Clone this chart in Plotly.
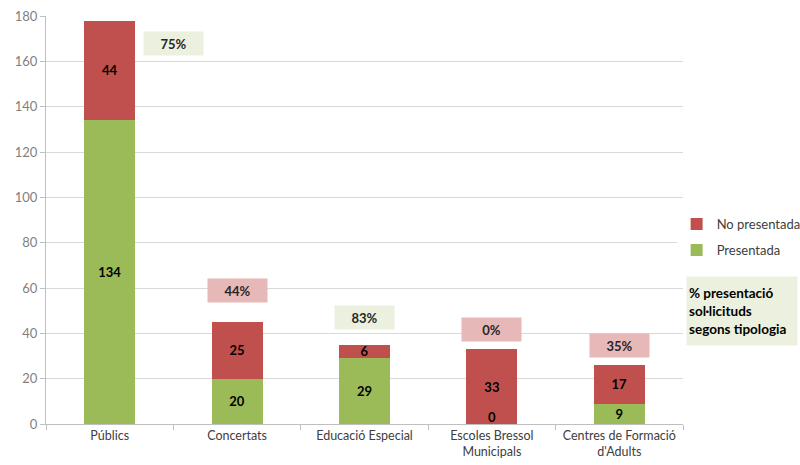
import plotly.graph_objects as go

categories = ["Públics", "Concertats", "Educació Especial", "Escoles Bressol<br>Municipals", "Centres de Formació<br>d'Adults"]
presentada = [134, 20, 29, 0, 9]
no_presentada = [44, 25, 6, 33, 17]
pct_labels = ["75%", "44%", "83%", "0%", "35%"]
pct_values = [75, 44, 83, 0, 35]
pct_x = [0.5, 1, 2, 3, 4]
pct_y = [167.8, 58.9, 47.2, 41.7, 34.6]

RED = "#C0504D"
GREEN = "#9BBB59"
FONT = "Lato"

fig = go.Figure()
fig.add_trace(go.Bar(
    x=categories, y=presentada, name="Presentada", marker_color=GREEN,
    marker_line_width=0, legendgroup="p", legendrank=2,
    text=[str(v) if v else "" for v in presentada], textposition="inside",
    insidetextanchor="middle", textangle=0, constraintext="none",
    textfont=dict(family=FONT, size=13, color="black", weight="bold"),
))
fig.add_trace(go.Bar(
    x=categories, y=no_presentada, name="No presentada", marker_color=RED,
    marker_line_width=0, legendgroup="n", legendrank=1,
    text=[str(v) if v else "" for v in no_presentada], textposition="inside",
    insidetextanchor="middle", textangle=0, constraintext="none",
    textfont=dict(family=FONT, size=13, color="black", weight="bold"),
))

# labels for zero-valued segments
for i, v in enumerate(presentada):
    if v == 0:
        fig.add_annotation(x=i, y=0, xref="x", yref="y", text="<b>0</b>", showarrow=False,
                           yanchor="bottom", yshift=-3, font=dict(family=FONT, size=13, color="black"))

for xv, yv, lab, pv in zip(pct_x, pct_y, pct_labels, pct_values):
    fig.add_annotation(
        x=xv, y=yv, xref="x", yref="y", text="<b>" + lab + "</b>", showarrow=False,
        bgcolor="#EBF1DE" if pv >= 50 else "#E6B9B8", width=59, height=23,
        borderpad=0, font=dict(family=FONT, size=13, color="#262626"),
    )

fig.add_annotation(
    x=1.005, y=0.276, xref="paper", yref="paper", xanchor="left", yanchor="middle",
    text="<b>% presentació<br>sol·licituds<br>segons tipologia</b>", showarrow=False,
    align="left", bgcolor="#EBF1DE", width=106, height=64, borderpad=2,
    font=dict(family=FONT, size=13.5, color="black"),
)

fig.update_layout(
    barmode="stack", bargap=0.6,
    width=800, height=465,
    margin=dict(l=46, r=117, t=16, b=41, autoexpand=False),
    plot_bgcolor="white", paper_bgcolor="white",
    font=dict(family=FONT, size=13, color="#404040"),
    uniformtext=dict(minsize=13, mode="show"),
    showlegend=True,
    legend=dict(x=0.99, y=0.458, xanchor="left", yanchor="middle",
                traceorder="grouped", font=dict(family=FONT, size=13, color="#404040"),
                itemwidth=30, tracegroupgap=6),
    xaxis=dict(showline=True, linecolor="#BFBFBF", ticks="outside", tickson="boundaries",
               tickcolor="#BFBFBF", ticklen=5, tickangle=0, automargin=False,
               tickfont=dict(size=12.5, color="#404040")),
    yaxis=dict(range=[0, 180], dtick=20, showgrid=True, gridcolor="#D9D9D9",
               showline=True, linecolor="#BFBFBF", ticks="outside", tickcolor="#BFBFBF",
               ticklen=5, zeroline=False, automargin=False,
               tickfont=dict(size=13, color="#7F7F7F")),
)

fig.write_html("out.html", config={"displayModeBar": False},
               post_script="document.body.style.margin='0px';document.body.style.overflow='hidden';")
